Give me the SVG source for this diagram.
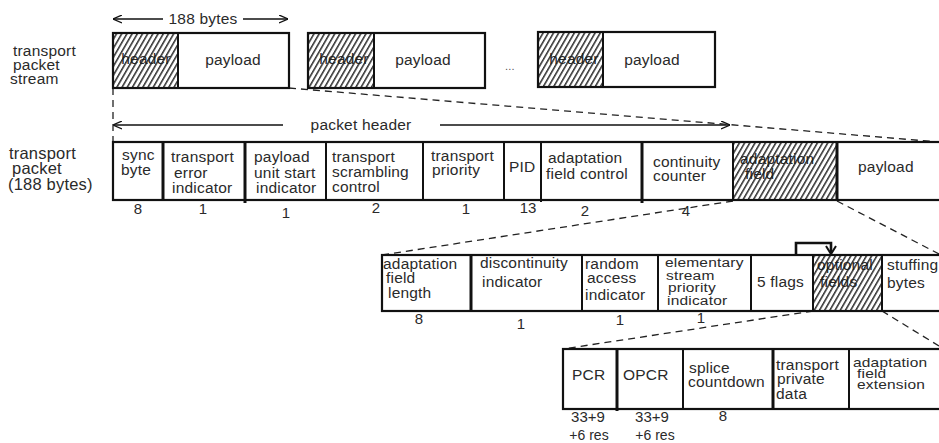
<svg xmlns="http://www.w3.org/2000/svg" width="939" height="443" viewBox="0 0 939 443">
<style>
.t{font-family:"Liberation Sans",Arial,sans-serif;font-size:15.5px;letter-spacing:0.2px;fill:#2a2a2a}
.lab{font-size:16.5px}
.n{font-size:15px;text-anchor:middle;letter-spacing:0}
.s{font-size:14px;text-anchor:middle;letter-spacing:0}
.c{text-anchor:middle}
.box{fill:none;stroke:#111;stroke-width:2.2}
.div{stroke:#111;stroke-width:2}
.thk{stroke:#111;stroke-width:3}
.hat{fill:url(#hatch);stroke:none}
.dash{fill:none;stroke:#222;stroke-width:1.3;stroke-dasharray:7 5}
.arr{fill:none;stroke:#111;stroke-width:1.3}
</style>
<defs>
<pattern id="hatch" patternUnits="userSpaceOnUse" width="4.5" height="5" patternTransform="rotate(30)">
<line x1="0.8" y1="0" x2="0.8" y2="5" stroke="#1a1a1a" stroke-width="1.4"/>
</pattern>
<marker id="open" viewBox="0 0 10 10" refX="10" refY="5" markerWidth="9" markerHeight="9" orient="auto-start-reverse" markerUnits="userSpaceOnUse">
<path d="M0,0.5 L10,5 L0,9.5" fill="none" stroke="#111" stroke-width="1.4"/>
</marker>
</defs>
<rect width="939" height="443" fill="#fff"/>

<g id="labels">
<text class="t" x="13" y="56">transport</text>
<text class="t" x="13" y="70">packet</text>
<text class="t" x="10" y="84">stream</text>
<text class="t lab" x="9" y="159">transport</text>
<text class="t lab" x="12" y="174">packet</text>
<text class="t lab" x="8" y="190">(188 bytes)</text>
<text class="t c" x="203" y="24">188 bytes</text>
<text class="t c" x="361" y="130">packet header</text>
<text class="t c" x="510" y="70" style="font-size:11px;fill:#555">...</text>
</g>

<g id="connectors">
<line class="arr" x1="163" y1="19" x2="113" y2="19" marker-end="url(#open)"/>
<line class="arr" x1="243" y1="19" x2="288" y2="19" marker-end="url(#open)"/>
<line class="arr" x1="283" y1="125" x2="113" y2="125" marker-end="url(#open)"/>
<line class="arr" x1="440" y1="125" x2="730" y2="125" marker-end="url(#open)"/>
<line class="dash" x1="113" y1="88" x2="113" y2="142"/>
<line class="dash" x1="289" y1="88" x2="939" y2="142"/>
<line class="dash" x1="733" y1="201" x2="382" y2="255"/>
<line class="dash" x1="837" y1="201" x2="939" y2="254"/>
<line class="dash" x1="813" y1="311" x2="563" y2="349"/>
<line class="dash" x1="882" y1="311" x2="939" y2="346"/>
<path d="M796,255 V243 H831 V253" fill="none" stroke="#111" stroke-width="2.6"/>
<path d="M826,246 L831,254 L836,246" fill="none" stroke="#111" stroke-width="2"/>
</g>

<g id="stream-packet-1">
<text class="t c" x="146" y="64">header</text>
<rect class="hat" x="113" y="33" width="65" height="55"/>
<text class="t c" x="233" y="65">payload</text>
<rect class="box" x="113" y="33" width="176" height="55"/>
<line class="div" x1="178" y1="33" x2="178" y2="88"/>
</g>
<g id="stream-packet-2">
<text class="t c" x="344" y="64">header</text>
<rect class="hat" x="308" y="33" width="66" height="55"/>
<text class="t c" x="423" y="65">payload</text>
<rect class="box" x="308" y="33" width="177" height="55"/>
<line class="div" x1="374" y1="33" x2="374" y2="88"/>
</g>
<g id="stream-packet-3">
<text class="t c" x="574" y="64">header</text>
<rect class="hat" x="538" y="33" width="65" height="55"/>
<text class="t c" x="652" y="65">payload</text>
<rect class="box" x="538" y="32" width="177" height="55"/>
<line class="div" x1="603" y1="32" x2="603" y2="87"/>
</g>

<g id="transport-packet">
<text class="t" x="122" y="160">sync</text>
<text class="t" x="121" y="175">byte</text>
<text class="t" x="171" y="162">transport</text>
<text class="t" x="174" y="178">error</text>
<text class="t" x="172" y="193">indicator</text>
<text class="t" x="254" y="162">payload</text>
<text class="t" x="254" y="178">unit start</text>
<text class="t" x="256" y="193">indicator</text>
<text class="t" x="332" y="162">transport</text>
<text class="t" x="332" y="177">scrambling</text>
<text class="t" x="332" y="192">control</text>
<text class="t" x="431" y="161">transport</text>
<text class="t" x="432" y="175">priority</text>
<text class="t" x="509" y="172">PID</text>
<text class="t" x="548" y="163">adaptation</text>
<text class="t" x="546" y="179">field control</text>
<text class="t" x="653" y="167">continuity</text>
<text class="t" x="653" y="181">counter</text>
<text class="t" x="740" y="164">adaptation</text>
<text class="t" x="745" y="179">field</text>
<rect class="hat" x="733" y="142" width="104" height="58"/>
<text class="t" x="858" y="172">payload</text>
<rect class="box" x="113" y="142" width="840" height="58"/>
<line class="thk" x1="163" y1="142" x2="163" y2="200"/>
<line class="thk" x1="245" y1="142" x2="245" y2="203"/>
<line class="div" x1="326" y1="142" x2="326" y2="200"/>
<line class="div" x1="423" y1="142" x2="423" y2="200"/>
<line class="div" x1="504" y1="142" x2="504" y2="200"/>
<line class="div" x1="541" y1="142" x2="541" y2="202"/>
<line class="thk" x1="642" y1="142" x2="642" y2="203"/>
<line class="div" x1="733" y1="142" x2="733" y2="200"/>
<line class="thk" x1="837" y1="142" x2="837" y2="200"/>
<text class="t n" x="138" y="214">8</text>
<text class="t n" x="203" y="214">1</text>
<text class="t n" x="286" y="218">1</text>
<text class="t n" x="376" y="213">2</text>
<text class="t n" x="466" y="214">1</text>
<text class="t n" x="528" y="213">13</text>
<text class="t n" x="585" y="216">2</text>
<text class="t n" x="686" y="216">4</text>
</g>

<g id="adaptation-field">
<text class="t" x="383" y="269">adaptation</text>
<text class="t" x="386" y="283">field</text>
<text class="t" x="388" y="298">length</text>
<text class="t" x="480" y="268">discontinuity</text>
<text class="t" x="482" y="287">indicator</text>
<text class="t" x="585" y="269">random</text>
<text class="t" x="587" y="283">access</text>
<text class="t" x="585" y="300">indicator</text>
<text class="t" transform="translate(665,267) scale(1,0.82)">elementary</text>
<text class="t" transform="translate(666,279.5) scale(1,0.82)">stream</text>
<text class="t" transform="translate(668,292) scale(1,0.82)">priority</text>
<text class="t" transform="translate(667,305) scale(1,0.82)">indicator</text>
<text class="t" x="757" y="287">5 flags</text>
<text class="t" x="817" y="270">optional</text>
<text class="t" x="820" y="287">fields</text>
<rect class="hat" x="813" y="255" width="69" height="56"/>
<text class="t" x="887" y="270">stuffing</text>
<text class="t" x="887" y="288">bytes</text>
<rect class="box" x="382" y="255" width="570" height="56"/>
<line class="thk" x1="471" y1="255" x2="471" y2="311"/>
<line class="div" x1="582" y1="255" x2="582" y2="311"/>
<line class="div" x1="658" y1="255" x2="658" y2="311"/>
<line class="div" x1="751" y1="255" x2="751" y2="311"/>
<line class="div" x1="813" y1="255" x2="813" y2="311"/>
<line class="div" x1="882" y1="255" x2="882" y2="311"/>
<text class="t n" x="419" y="324">8</text>
<text class="t n" x="521" y="329">1</text>
<text class="t n" x="620" y="325">1</text>
<text class="t n" x="701" y="323">1</text>
</g>

<g id="optional-fields">
<text class="t" x="572" y="380">PCR</text>
<text class="t" x="623" y="380">OPCR</text>
<text class="t" x="689" y="373">splice</text>
<text class="t" x="688" y="387">countdown</text>
<text class="t" x="776" y="370">transport</text>
<text class="t" x="777" y="384">private</text>
<text class="t" x="776" y="399">data</text>
<text class="t" transform="translate(853,367) scale(1,0.8)">adaptation</text>
<text class="t" transform="translate(857,378) scale(1,0.8)">field</text>
<text class="t" transform="translate(857,389) scale(1,0.8)">extension</text>
<rect class="box" x="563" y="349" width="390" height="60"/>
<line class="thk" x1="617" y1="349" x2="617" y2="411"/>
<line class="div" x1="683" y1="349" x2="683" y2="409"/>
<line class="thk" x1="773" y1="349" x2="773" y2="409"/>
<line class="div" x1="849" y1="349" x2="849" y2="409"/>
<text class="t n" x="588" y="422">33+9</text>
<text class="t s" x="589" y="440">+6 res</text>
<text class="t n" x="652" y="422">33+9</text>
<text class="t s" x="655" y="440">+6 res</text>
<text class="t n" x="723" y="421">8</text>
</g>
</svg>
